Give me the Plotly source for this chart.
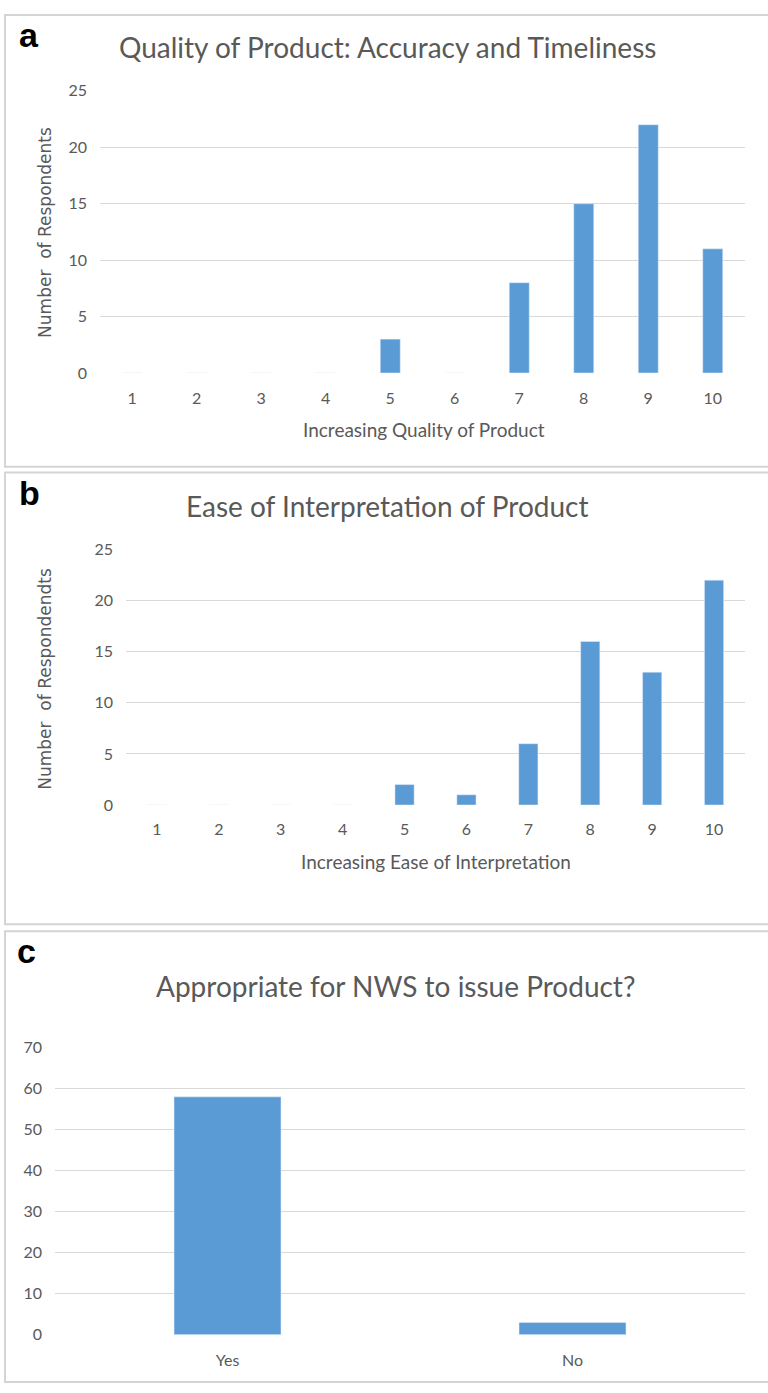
import plotly.graph_objects as go

W, H = 768, 1393

# Data
scores = [str(i) for i in range(1, 11)]
quality_counts = [0, 0, 0, 0, 3, 0, 8, 15, 22, 11]
ease_counts = [0, 0, 0, 0, 2, 1, 6, 16, 13, 22]
appropriate_labels = ["Yes", "No"]
appropriate_counts = [58, 3]

titles = ["Quality of Product: Accuracy and Timeliness",
          "Ease of Interpretation of Product",
          "Appropriate for NWS to issue Product?"]
xtitles = ["Increasing Quality of Product", "Increasing Ease of Interpretation"]
ytitles = ["Number  of Respondents", "Number  of Respondendts"]
letters = ["a", "b", "c"]

BAR = "#5B9BD5"
GRID = "#D9D9D9"
TXT = "#595959"
FONT = "Lato"


def px(x):
    return x / W


def py(y):
    return 1 - y / H


fig = go.Figure()
fig.add_trace(go.Bar(x=scores, y=quality_counts, marker_color=BAR, width=0.31,
                     xaxis="x", yaxis="y"))
fig.add_trace(go.Bar(x=scores, y=ease_counts, marker_color=BAR, width=0.31,
                     xaxis="x2", yaxis="y2"))
fig.add_trace(go.Bar(x=appropriate_labels, y=appropriate_counts, marker_color=BAR, width=0.31,
                     xaxis="x3", yaxis="y3"))


def xax(dom, anchor, standoff):
    return dict(domain=dom, anchor=anchor, type="category", showgrid=False,
                showline=False, zeroline=False, ticks="", ticklabelstandoff=standoff,
                tickfont=dict(family=FONT, size=16, color=TXT), fixedrange=True)


def yax(dom, anchor, rng, dtick):
    return dict(domain=dom, anchor=anchor, range=rng, dtick=dtick, showgrid=True,
                gridcolor=GRID, gridwidth=1, zeroline=False, showline=False, ticks="",
                ticklabelstandoff=12,
                tickfont=dict(family=FONT, size=16, color=TXT), fixedrange=True)


fig.update_layout(
    width=W, height=H, margin=dict(l=0, r=0, t=0, b=0),
    paper_bgcolor="white", plot_bgcolor="white", showlegend=False,
    xaxis=xax([px(100), px(745)], "y", 14),
    yaxis=yax([py(368), py(82)], "x", [0, 25], 5),
    xaxis2=xax([px(126), px(745)], "y2", 13),
    yaxis2=yax([py(806), py(547)], "x2", [0, 25], 5),
    xaxis3=xax([px(55), px(745)], "y3", 14),
    yaxis3=yax([py(1343), py(1052)], "x3", [0, 70], 10),
)

# Panel borders
panels = [(5, 5, 463), (5, 469, 927), (5, 934, 1391)]
for x0, y0, y1 in panels:
    fig.add_shape(type="rect", xref="paper", yref="paper",
                  x0=px(x0), x1=px(W + 40), y0=py(y1), y1=py(y0),
                  line=dict(color="#D4D4D4", width=2), fillcolor="rgba(0,0,0,0)")

# Titles
title_pos = [(387, 38), (387, 503), (395, 990)]
for t, (x, y) in zip(titles, title_pos):
    fig.add_annotation(text=t, xref="paper", yref="paper", x=px(x), y=py(y),
                       showarrow=False, xanchor="center", yanchor="middle",
                       font=dict(family=FONT, size=28, color=TXT))

# Panel letters
letter_pos = [(29, 25), (29, 490), (26, 954)]
for l, (x, y) in zip(letters, letter_pos):
    fig.add_annotation(text="<b>%s</b>" % l, xref="paper", yref="paper", x=px(x), y=py(y),
                       showarrow=False, xanchor="center", yanchor="middle",
                       font=dict(family="Liberation Sans", size=34, color="black"))

# X-axis titles
xt_pos = [(424, 425), (436, 863)]
for t, (x, y) in zip(xtitles, xt_pos):
    fig.add_annotation(text=t, xref="paper", yref="paper", x=px(x), y=py(y),
                       showarrow=False, xanchor="center", yanchor="middle",
                       font=dict(family=FONT, size=19, color=TXT))

# Y-axis titles
yt_pos = [(45, 226), (45, 678)]
for t, (x, y) in zip(ytitles, yt_pos):
    fig.add_annotation(text=t, xref="paper", yref="paper", x=px(x), y=py(y),
                       showarrow=False, xanchor="center", yanchor="middle", textangle=-90,
                       font=dict(family="DejaVu Sans", size=17, color=TXT))

# Remove the browser's default 8px body margin so the figure sits at the page origin
fig.write_html("out.html", config={"displayModeBar": False},
               post_script="document.body.style.margin='0px';")
